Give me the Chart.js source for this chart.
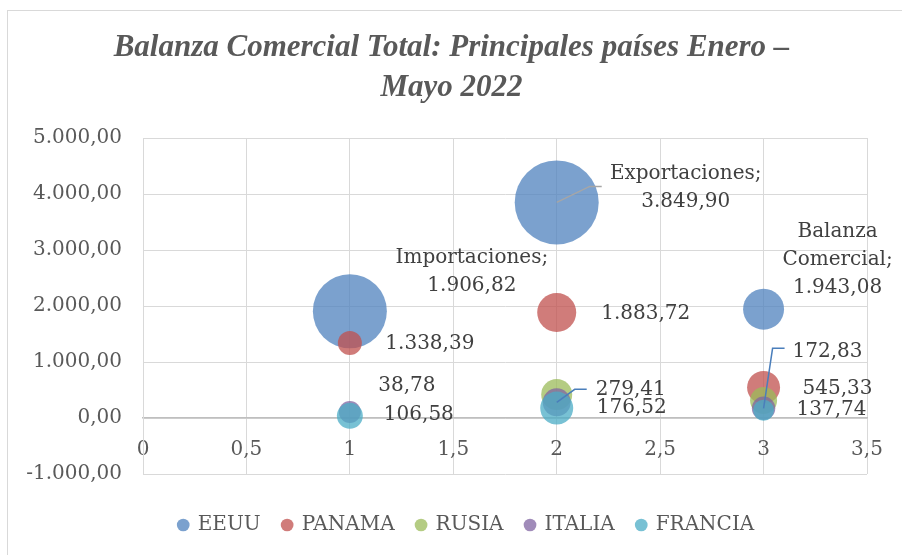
<!DOCTYPE html>
<html>
<head>
<meta charset="utf-8">
<script src="https://cdn.jsdelivr.net/npm/chart.js@4.4.1/dist/chart.umd.min.js"></script>
<style>
  body { margin: 0; background: #fff; }
  canvas { display: block; }
</style>
</head>
<body>
<canvas id="myChart" width="902" height="555"></canvas>
<script>
// categories on the x axis (1, 2, 3)
const categories = ["Importaciones", "Exportaciones", "Balanza Comercial"];
const xValues = [1, 2, 3];
const seriesNames = ["EEUU", "PANAMA", "RUSIA", "ITALIA", "FRANCIA"];

// y values per country
const eeuu = [1906.82, 3849.90, 1943.08];
const panama = [1338.39, 1883.72, 545.33];
const rusia = [null, 420, 313];
const italia = [106.58, 279.41, 172.83];
const francia = [38.78, 176.52, 137.74];

// bubble sizes
const eeuuSize = [1369, 1764, 420];
const panamaSize = [144, 380, 272];
const rusiaSize = [null, 240, 182];
const italiaSize = [121, 196, 137];
const franciaSize = [169, 272, 110];

const xTicks = [0, 0.5, 1, 1.5, 2, 2.5, 3, 3.5];
const yTicks = [-1000, 0, 1000, 2000, 3000, 4000, 5000];

const colors = [
  "rgba(79,129,189,0.75)",
  "rgba(192,80,77,0.75)",
  "rgba(155,187,89,0.75)",
  "rgba(128,100,162,0.75)",
  "rgba(75,172,198,0.75)"
];

const allValues = [eeuu, panama, rusia, italia, francia];
const allSizes = [eeuuSize, panamaSize, rusiaSize, italiaSize, franciaSize];
const maxSize = Math.max(...allSizes.flat().filter(v => v != null));
const maxRadius = 42;

function fmt(v, dec) {
  const neg = v < 0;
  const parts = Math.abs(v).toFixed(dec).split(".");
  const intPart = parts[0].replace(/\B(?=(\d{3})+(?!\d))/g, ".");
  return (neg ? "-" : "") + intPart + (parts[1] ? "," + parts[1] : "");
}

const datasets = seriesNames.map(function(name, s) {
  const pts = [];
  xValues.forEach(function(x, i) {
    if (allValues[s][i] == null) return;
    pts.push({ x: x, y: allValues[s][i], r: maxRadius * Math.sqrt(allSizes[s][i] / maxSize), idx: i });
  });
  return {
    label: name,
    data: pts,
    backgroundColor: colors[s],
    borderWidth: 0,
    order: seriesNames.length - s
  };
});

// data labels: which point, offset from bubble centre, leader line
const labelSpots = [
  { s: 0, i: 0, dx: 122, dy: [-53, -25], cat: true },
  { s: 0, i: 1, dx: 129, dy: [-29, -1], cat: true, leader: [[33, -16], [45, -16]], leaderColor: "#a6a6a6" },
  { s: 0, i: 2, dx: 74, dy: [-77, -49, -21], cat: true },
  { s: 1, i: 0, dx: 80, dy: [1] },
  { s: 1, i: 1, dx: 89, dy: [1] },
  { s: 1, i: 2, dx: 74, dy: [1] },
  { s: 3, i: 0, dx: 69, dy: [3] },
  { s: 4, i: 0, dx: 57, dy: [-30] },
  { s: 3, i: 1, dx: 74, dy: [-13], leader: [[18, -13], [30, -13]], leaderColor: "#4a7ebb" },
  { s: 4, i: 1, dx: 75, dy: [0] },
  { s: 3, i: 2, dx: 64, dy: [-57], leader: [[9, -60], [21, -60]], leaderColor: "#4a7ebb" },
  { s: 4, i: 2, dx: 68, dy: [0] }
];

const frame = {
  id: "frame",
  beforeDraw(chart) {
    const ctx = chart.ctx;
    ctx.save();
    ctx.fillStyle = "#fff";
    ctx.fillRect(0, 0, chart.width, chart.height);
    ctx.strokeStyle = "#d9d9d9";
    ctx.lineWidth = 1;
    ctx.strokeRect(7.5, 10.5, 1000, 1000);
    ctx.restore();
  }
};

// nudge title and legend to the right, like the original
const shiftBoxes = {
  id: "shiftBoxes",
  afterLayout(chart) {
    chart.titleBlock.left += 14;
    chart.titleBlock.right += 14;
    chart.legend.left += 29;
    chart.legend.right += 29;
  }
};

const dataLabels = {
  id: "dataLabels",
  afterDatasetsDraw(chart) {
    const ctx = chart.ctx;
    ctx.save();
    labelSpots.forEach(function(l) {
      const meta = chart.getDatasetMeta(l.s);
      const k = meta._dataset.data.findIndex(p => p.idx === l.i);
      const el = meta.data[k];
      if (!el) return;
      const v = allValues[l.s][l.i];
      if (l.leader) {
        ctx.strokeStyle = l.leaderColor;
        ctx.lineWidth = 1.5;
        ctx.beginPath();
        ctx.moveTo(el.x, el.y);
        l.leader.forEach(p => ctx.lineTo(el.x + p[0], el.y + p[1]));
        ctx.stroke();
      }
      let lines = [fmt(v, 2)];
      if (l.cat) lines = (categories[l.i] + ";").split(" ").concat(lines);
      ctx.fillStyle = "#404040";
      ctx.font = "20px 'DejaVu Serif'";
      ctx.textAlign = "center";
      ctx.textBaseline = "middle";
      lines.forEach((t, n) => ctx.fillText(t, el.x + l.dx, el.y + l.dy[n]));
    });
    ctx.restore();
  }
};

new Chart("myChart", {
  type: "bubble",
  data: { datasets: datasets },
  plugins: [frame, shiftBoxes, dataLabels],
  options: {
    responsive: false,
    animation: false,
    layout: { autoPadding: false, padding: { left: 8, right: 35, top: 0, bottom: 10 } },
    plugins: {
      tooltip: { enabled: false },
      title: {
        display: true,
        text: ["Balanza Comercial Total: Principales países Enero –", "Mayo 2022"],
        color: "#595959",
        font: { family: "'Liberation Serif'", size: 31, style: "italic", weight: "bold", lineHeight: 40 / 31 },
        padding: { top: 28, bottom: 30 }
      },
      legend: {
        position: "bottom",
        title: { display: true, text: " ", font: { size: 10, lineHeight: "19px" }, padding: 0 },
        labels: {
          usePointStyle: true,
          pointStyle: "circle",
          boxWidth: 9,
          boxHeight: 9,
          padding: 22,
          color: "#595959",
          font: { family: "'DejaVu Serif'", size: 20 },
          sort: (a, b) => a.datasetIndex - b.datasetIndex
        }
      }
    },
    scales: {
      x: {
        type: "linear",
        position: { y: 0 },
        min: 0,
        max: 3.5,
        afterBuildTicks: s => { s.ticks = xTicks.map(v => ({ value: v })); },
        afterFit: s => { s.paddingLeft = 0; s.paddingRight = 0; },
        ticks: {
          color: "#595959",
          font: { family: "'DejaVu Serif'", size: 20 },
          padding: 20,
          callback: v => fmt(v, Number.isInteger(v) ? 0 : 1)
        },
        grid: { color: "#d9d9d9", drawTicks: false },
        border: { color: "#bfbfbf", width: 1.5 }
      },
      y: {
        min: -1000,
        max: 5000,
        afterFit: s => { s.width = 135; },
        afterBuildTicks: s => { s.ticks = yTicks.map(v => ({ value: v })); },
        ticks: {
          color: "#595959",
          font: { family: "'DejaVu Serif'", size: 20 },
          padding: 21,
          callback: v => fmt(v, 2)
        },
        grid: { color: "#d9d9d9", drawTicks: false },
        border: { color: "#d9d9d9" }
      }
    }
  }
});
</script>
</body>
</html>
